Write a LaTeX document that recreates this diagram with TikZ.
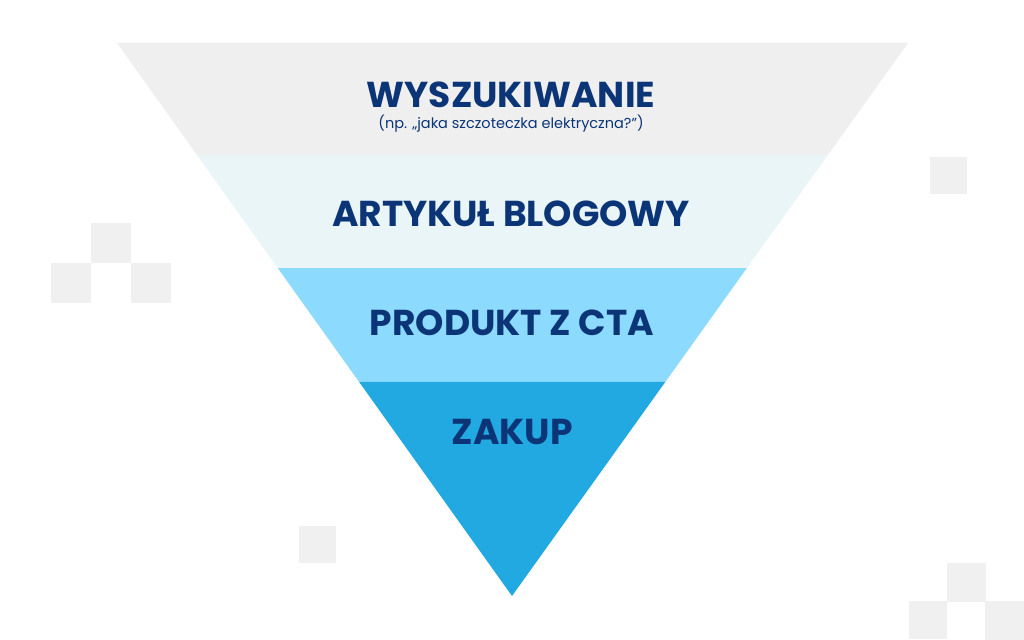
\documentclass[tikz,border=0pt]{standalone}
\usepackage{fontspec}
\setmainfont{Poppins}
\usetikzlibrary{calc}
\definecolor{navy}{HTML}{0B3576}
\definecolor{sqgrey}{HTML}{F0F0F0}
\definecolor{bandA}{HTML}{EFEFEF}
\definecolor{bandB}{HTML}{EAF5F8}
\definecolor{bandC}{HTML}{8CDAFD}
\definecolor{bandD}{HTML}{22A9E2}
\tikzset{
  stage/.style={text=navy,font=\bfseries\fontsize{36}{36}\selectfont,inner sep=0pt},
  hint/.style={text=navy,font=\fontsize{14.5}{14.5}\selectfont,inner sep=0pt}
}

\begin{document}
\begin{tikzpicture}[x=1pt,y=-1pt]
	\useasboundingbox[fill=white] (0,0) rectangle (1024,639);
	%SQUARES
	\foreach \x/\y/\s in {91/223/40,51/263/40,131/263/40,930/157/37,299/526/37,947/563/39,909/601/38,985/601/39}
		\fill[sqgrey] (\x,\y) rectangle +(\s,\s);
	%FUNNEL
	\coordinate (tl) at (117,43);
	\coordinate (tr) at (908,43);
	\coordinate (apex) at (512,596);
	\coordinate (l1) at ($(tl)!0.2025!(apex)$); \coordinate (r1) at ($(tr)!0.2025!(apex)$);
	\coordinate (l2) at ($(tl)!0.4069!(apex)$); \coordinate (r2) at ($(tr)!0.4069!(apex)$);
	\coordinate (l3) at ($(tl)!0.613!(apex)$); \coordinate (r3) at ($(tr)!0.613!(apex)$);
	\fill[bandA] (tl) -- (tr) -- (r1) -- (l1) -- cycle;
	\fill[bandB] (l1) -- (r1) -- (r2) -- (l2) -- cycle;
	\fill[bandC] (l2) -- (r2) -- (r3) -- (l3) -- cycle;
	\fill[bandD] (l3) -- (r3) -- (apex) -- cycle;
	%LABELS
	\node[stage] (search) at (511,95) {WYSZUKIWANIE};
	\node[hint] (example) at (511,124) {(np. „jaka szczoteczka elektryczna?”)};
	\node[stage] (blog) at (511,214) {ARTYKUŁ BLOGOWY};
	\node[stage] (product) at (512,323) {PRODUKT Z CTA};
	\node[stage] (buy) at (512,432) {ZAKUP};
\end{tikzpicture}
\end{document}
